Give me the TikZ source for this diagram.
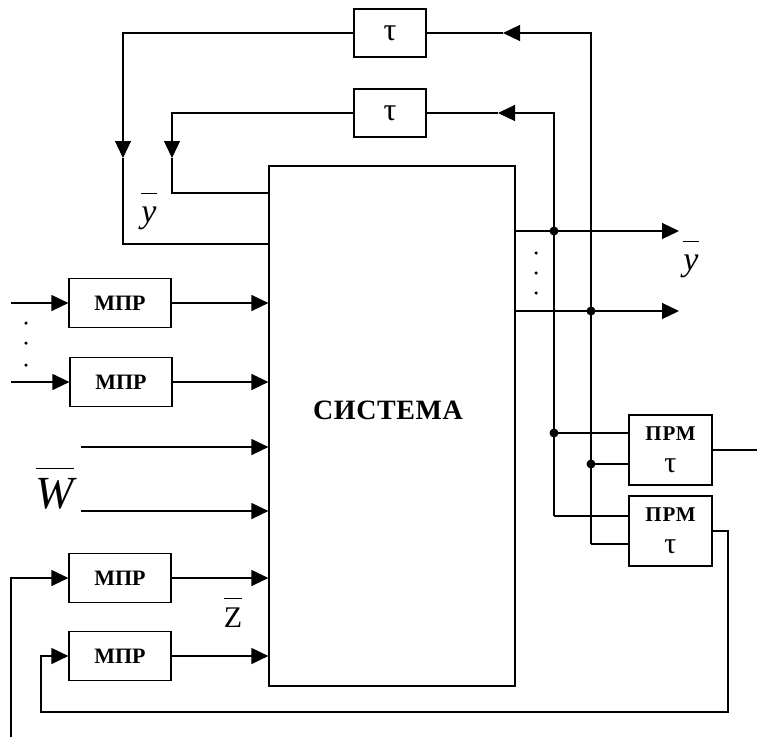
\documentclass[tikz,border=0pt]{standalone}
\usepackage{fontspec}
\setmainfont{Liberation Serif}
\usetikzlibrary{arrows.meta}
\begin{document}
\begin{tikzpicture}[x=1pt,y=-1pt,line width=1.2pt,
  arr/.style={-{Triangle[length=17pt,width=16pt]}},
  mpr/.style={draw,minimum width=102pt,minimum height=49pt,inner sep=0pt,font=\fontsize{22}{22}\selectfont\bfseries},
  taubox/.style={draw,minimum width=72pt,minimum height=48pt,inner sep=0pt,font=\fontsize{32}{32}\selectfont},
  prm/.style={draw,minimum width=83pt,minimum height=70pt,inner sep=0pt,align=center,font=\fontsize{21}{32}\selectfont\bfseries},
  sysbox/.style={draw,minimum width=246pt,minimum height=520pt,inner sep=0pt},
  jdot/.style={circle,fill,inner sep=0pt,minimum size=9pt},
  sdot/.style={circle,fill,inner sep=0pt,minimum size=3.5pt},
  lbl/.style={anchor=base,inner sep=0pt}]
\useasboundingbox (0,0) rectangle (757,737);

% main system
\node[sysbox] (sys) at (392,426) {};
\node[font=\fontsize{28}{30}\selectfont\bfseries] (systxt) at (388,410) {\addfontfeature{LetterSpace=2}СИСТЕМА};

% delay boxes
\node[taubox] (tau1) at (390,33) {τ};
\node[taubox] (tau2) at (390,113) {τ};

% MPR boxes
\node[mpr] (m1) at (120,303) {МПР};
\node[mpr] (m2) at (121,382) {МПР};
\node[mpr] (m3) at (120,578) {МПР};
\node[mpr] (m4) at (120,656) {МПР};

% PRM boxes
\node[prm] (p1) at (670.5,450) {\addfontfeature{LetterSpace=4}ПРМ\\\mdseries\fontsize{30}{32}\selectfont τ};
\node[prm] (p2) at (670.5,531) {\addfontfeature{LetterSpace=4}ПРМ\\\mdseries\fontsize{30}{32}\selectfont τ};

% coordinates
\coordinate (j1) at (554,231);
\coordinate (j2) at (591,311);
\coordinate (j3) at (554,433);
\coordinate (j4) at (591,464);
\coordinate (c3) at (554,516);
\coordinate (c4) at (591,544);
\coordinate (o1) at (679,231);
\coordinate (o2) at (679,311);
\coordinate (a1) at (503,33);
\coordinate (a2) at (498,113);
\coordinate (b1) at (123,158);
\coordinate (b2) at (172,158);
\coordinate (e1) at (269,244);
\coordinate (e2) at (269,193);
\coordinate (i1) at (11,303);
\coordinate (i2) at (11,382);
\coordinate (i3) at (11,737);
\coordinate (w1) at (81,447);
\coordinate (w2) at (81,511);
\coordinate (r1) at (728,712);
\coordinate (r2) at (41,712);
\coordinate (q1) at (757,450);

% outputs
\draw[arr] (sys.east |- j1) -- (o1);
\draw[arr] (sys.east |- j2) -- (o2);

% feedback to delay boxes
\draw[arr] (c4) |- (a1);
\draw (a1) -- (tau1.east);
\draw[arr] (c3) |- (a2);
\draw (a2) -- (tau2.east);

% to PRM
\draw (j3) -- (j3 -| p1.west);
\draw (j4) -- (j4 -| p1.west);
\draw (c3) -- (c3 -| p2.west);
\draw (c4) -- (c4 -| p2.west);

% delay outputs to system
\draw[arr] (tau1.west) -| (b1);
\draw (b1) |- (e1);
\draw[arr] (tau2.west) -| (b2);
\draw (b2) |- (e2);

% MPR inputs and outputs
\draw[arr] (i1) -- (m1.west);
\draw[arr] (i2) -- (m2.west);
\draw[arr] (i3) |- (m3.west);
\draw[arr] (m1.east) -- (m1.east -| sys.west);
\draw[arr] (m2.east) -- (m2.east -| sys.west);
\draw[arr] (m3.east) -- (m3.east -| sys.west);
\draw[arr] (m4.east) -- (m4.east -| sys.west);
\draw[arr] (w1) -- (w1 -| sys.west);
\draw[arr] (w2) -- (w2 -| sys.west);

% PRM outputs
\draw (p1.east) -- (q1);
\draw[arr] (p2.east) -| (r1) -- (r2) |- (m4.west);

% junction dots
\node[jdot] (d1) at (j1) {};
\node[jdot] (d2) at (j2) {};
\node[jdot] (d3) at (j3) {};
\node[jdot] (d4) at (j4) {};

% ellipsis dots
\node[sdot] (l1) at (26,323) {};
\node[sdot] (l2) at (26,343) {};
\node[sdot] (l3) at (26,365) {};
\node[sdot] (r1d) at (536,253) {};
\node[sdot] (r2d) at (536,273) {};
\node[sdot] (r3d) at (536,293) {};

% labels
\node[lbl] (ylab1) at (149,222) {\fontsize{34}{34}\selectfont$\overline{\mbox{\itshape y\rule{0pt}{27pt}}}$};
\node[lbl] (ylab2) at (691,270) {\fontsize{34}{34}\selectfont$\overline{\mbox{\itshape y\rule{0pt}{27pt}}}$};
\node[lbl] (zlab) at (233,627) {\fontsize{30}{30}\selectfont$\overline{\mbox{Z\rule{0pt}{27pt}}}$};
\node[lbl] (wlab) at (55,508) {\fontsize{46}{46}\selectfont$\overline{\mbox{\itshape W\rule{0pt}{38pt}}}$};
\end{tikzpicture}
\end{document}
